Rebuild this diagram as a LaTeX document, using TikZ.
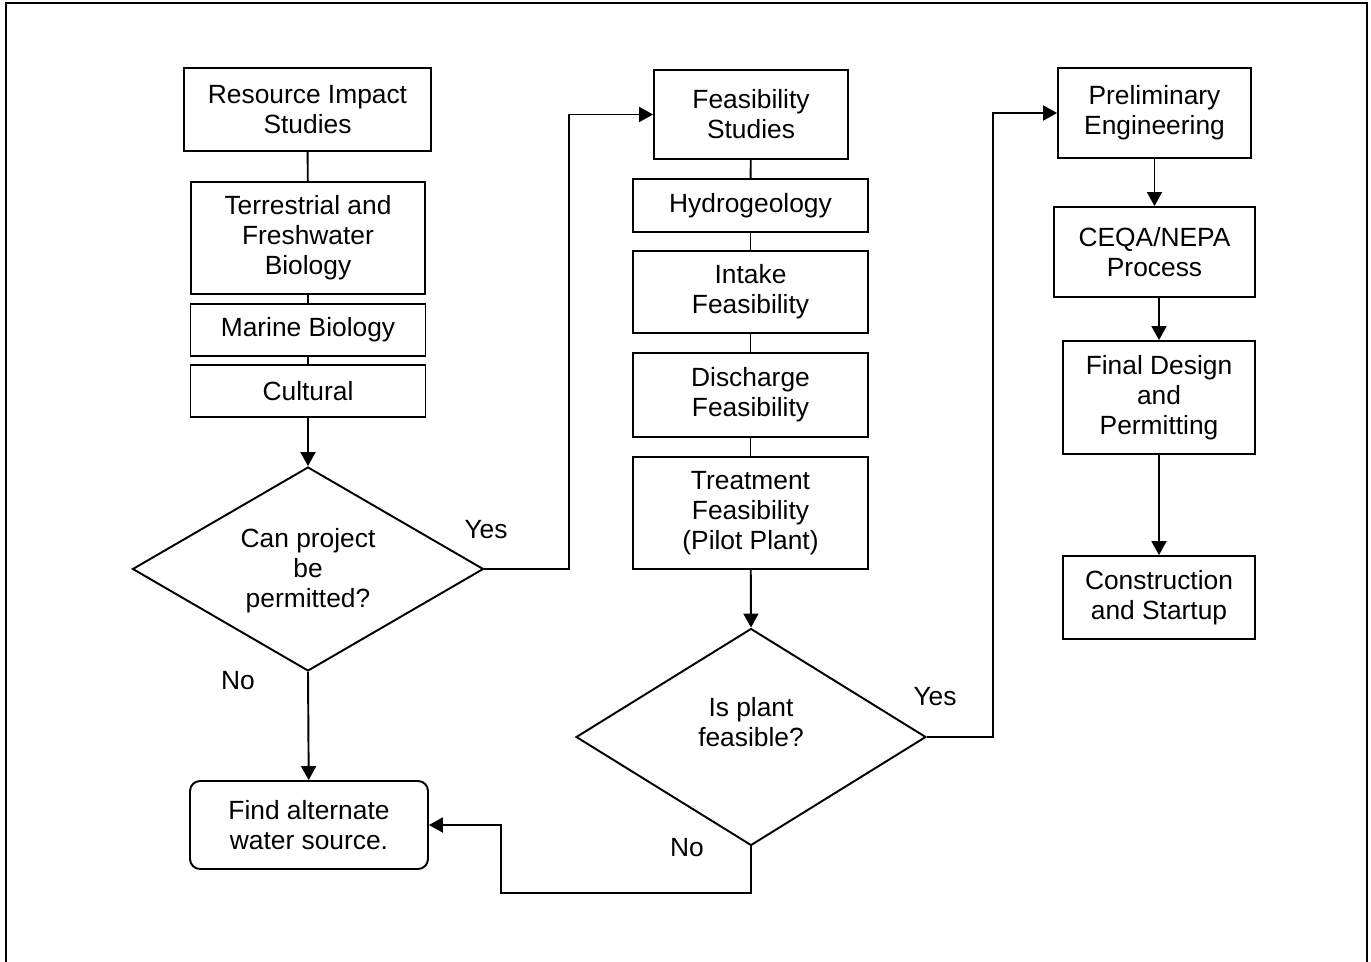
\documentclass[tikz,border=0pt]{standalone}
\usepackage{fontspec}
\setmainfont{Liberation Sans}
\usetikzlibrary{arrows.meta,shapes.geometric}
\tikzset{
  stage/.style={rectangle, draw=black, line width=1.1pt, align=center, inner sep=2pt, font=\fontsize{15}{17.1}\selectfont},
  endbox/.style={stage, rounded corners=0.2cm},
  check/.style={diamond, draw=black, line width=1.1pt, inner sep=0pt},
  answer/.style={font=\fontsize{15}{17.1}\selectfont, align=center},
  flow/.style={line width=1.1pt},
  flowArrow/.style={line width=1.1pt, -{Triangle[length=0.28cm,width=0.3cm]}}
}

\begin{document}
\begin{tikzpicture}[x=0.02cm, y=-0.02cm]

% Page size and frame
\useasboundingbox (0,0) rectangle (1371,962);
\draw[line width=1.1pt] (6,962) -- (6,3) -- (1367,3) -- (1367,962);

% Resource impact column
\node[stage, minimum width=4.94cm, minimum height=1.66cm] (res) at (307.5,109.5) {Resource Impact\\Studies};
\node[stage, minimum width=4.68cm, minimum height=2.24cm] (terr) at (308,238) {Terrestrial and\\Freshwater\\Biology};
\node[stage, minimum width=4.7cm, minimum height=1.04cm] (marine) at (308,330) {Marine Biology};
\node[stage, minimum width=4.7cm, minimum height=1.04cm] (cult) at (308,391) {Cultural};
\node[check, minimum width=7.02cm, minimum height=4.08cm] (permit) at (308,569) {};
\node[answer] (permitTxt) at (308,571) {Can project\\be\\permitted?};
\node[endbox, minimum width=4.76cm, minimum height=1.76cm] (alt) at (309,825) {Find alternate\\water source.};

% Feasibility column
\node[stage, minimum width=3.88cm, minimum height=1.78cm] (feas) at (751,114.5) {Feasibility\\Studies};
\node[stage, minimum width=4.7cm, minimum height=1.06cm] (hydro) at (750.5,205.5) {Hydrogeology};
\node[stage, minimum width=4.7cm, minimum height=1.64cm] (intake) at (750.5,292) {Intake\\Feasibility};
\node[stage, minimum width=4.7cm, minimum height=1.68cm] (disch) at (750.5,395) {Discharge\\Feasibility};
\node[stage, minimum width=4.7cm, minimum height=2.24cm] (treat) at (750.5,513) {Treatment\\Feasibility\\(Pilot Plant)};
\node[check, minimum width=7.0cm, minimum height=4.34cm] (plant) at (751,737) {};
\node[answer] (plantTxt) at (751,722) {Is plant\\feasible?};

% Engineering column
\node[stage, minimum width=3.86cm, minimum height=1.8cm] (prelim) at (1154.5,113) {Preliminary\\Engineering};
\node[stage, minimum width=4.02cm, minimum height=1.8cm] (ceqa) at (1154.5,252) {CEQA/NEPA\\Process};
\node[stage, minimum width=3.84cm, minimum height=2.26cm] (final) at (1159,397.5) {Final Design\\and\\Permitting};
\node[stage, minimum width=3.84cm, minimum height=1.66cm] (constr) at (1159,597.5) {Construction\\and Startup};

% Yes / No labels
\node[answer] (yes1) at (486,530) {Yes};
\node[answer] (no1) at (238,681) {No};
\node[answer] (yes2) at (935,697) {Yes};
\node[answer] (no2) at (687,848) {No};

% Bend points
\coordinate (bendA) at (569,569);
\coordinate (bendB) at (993,737);
\coordinate (bendC) at (501,893);

% Plain links
\draw[flow] (res) -- (terr);
\draw[flow] (terr) -- (marine);
\draw[flow] (marine) -- (cult);
\draw[flow] (feas) -- (hydro);
\draw[flow] (hydro) -- (intake);
\draw[flow] (intake) -- (disch);
\draw[flow] (disch) -- (treat);

% Arrows
\draw[flowArrow] (cult) -- (permit.north);
\draw[flowArrow] (permit.south) -- (alt);
\draw[flowArrow] (permit.east) -- (bendA) |- (feas.west);
\draw[flowArrow] (treat) -- (plant.north);
\draw[flowArrow] (plant.east) -- (bendB) |- (prelim.west);
\draw[flowArrow] (plant.south) |- (bendC) |- (alt.east);
\draw[flowArrow] (prelim) -- (ceqa);
\draw[flowArrow] (final.north |- ceqa.south) -- (final.north);
\draw[flowArrow] (final) -- (constr);

\end{tikzpicture}
\end{document}
